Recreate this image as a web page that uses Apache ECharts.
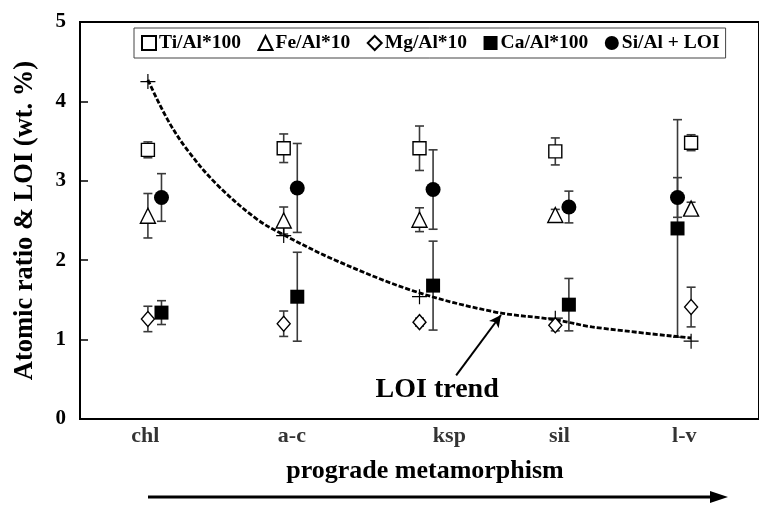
<!DOCTYPE html>
<html>
<head>
<meta charset="utf-8">
<script src="https://cdn.jsdelivr.net/npm/echarts@6/dist/echarts.min.js"></script>
<style>
  html, body { margin: 0; padding: 0; background: #fff; }
  #chart { width: 759px; height: 506px; }
</style>
</head>
<body>
<div id="chart"></div>
<script>
// metamorphic grade stages and where their labels sit on the x scale
const stages = ['chl', 'a-c', 'ksp', 'sil', 'l-v']
const stageLabelX = [0.98, 2.06, 3.22, 4.03, 4.95]

// open markers sit on the stage, filled ones are nudged to the side
const openX = [1, 2, 3, 4, 5]
const filledX = [1.1, 2.1, 3.1, 4.1, 4.9]

const tiAl = [3.39, 3.41, 3.41, 3.37, 3.48]
const tiErr = [0.10, 0.18, 0.28, 0.17, 0.10]
const feAl = [2.56, 2.50, 2.51, 2.57, 2.65]
const feErr = [0.28, 0.17, 0.15, 0.07, 0.08]
const mgAl = [1.26, 1.20, 1.22, 1.18, 1.41]
const mgErr = [0.16, 0.16, 0.05, 0.07, 0.25]
const caAl = [1.34, 1.54, 1.68, 1.44, 2.40]
const caErr = [0.15, 0.56, 0.56, 0.33, 1.37]
const siLoi = [2.79, 2.91, 2.89, 2.67, 2.79]
const siErr = [0.30, 0.56, 0.50, 0.20, 0.25]

// LOI values (+) and the dashed trend
const loiX = [1, 2, 3, 4, 5]
const loi = [4.25, 2.31, 1.54, 1.27, 0.98]
const trendX = [1, 1.145, 1.29, 1.51, 1.8, 2.0, 2.38, 2.96, 3.55, 4.0, 4.27, 5.0]
const trendY = [4.27, 3.77, 3.39, 2.95, 2.52, 2.32, 2.0, 1.61, 1.35, 1.25, 1.16, 1.02]

const serif = 'Liberation Serif'
const chart = echarts.init(document.getElementById('chart'))

function zip(xs, ys) {
    return xs.map((x, i) => [x, ys[i]])
}

function errorSeries(xs, ys, errs) {
    return {
        type: 'custom',
        silent: true,
        z: 1,
        data: xs.map((x, i) => [x, ys[i] - errs[i], ys[i] + errs[i]]),
        renderItem: (params, api) => {
            const lo = api.coord([api.value(0), api.value(1)])
            const hi = api.coord([api.value(0), api.value(2)])
            const cap = 4.5
            const style = {stroke: '#3a3a3a', lineWidth: 1.6}
            return {
                type: 'group',
                children: [
                    {type: 'line', shape: {x1: lo[0], y1: lo[1], x2: hi[0], y2: hi[1]}, style},
                    {type: 'line', shape: {x1: lo[0] - cap, y1: lo[1], x2: lo[0] + cap, y2: lo[1]}, style},
                    {type: 'line', shape: {x1: hi[0] - cap, y1: hi[1], x2: hi[0] + cap, y2: hi[1]}, style}
                ]
            }
        }
    }
}

function markerSeries(name, xs, ys, symbol, size, filled) {
    return {
        name: name,
        type: 'scatter',
        z: 3,
        symbol: symbol,
        symbolSize: size,
        itemStyle: filled
            ? {color: '#000', borderColor: '#000', borderWidth: 0, opacity: 1}
            : {color: '#fff', borderColor: '#000', borderWidth: 1.4, opacity: 1},
        data: zip(xs, ys)
    }
}

chart.setOption({
    animation: false,
    grid: {
        left: 80,
        top: 22,
        width: 687.5,
        bottom: 87,
        show: true,
        borderColor: '#000',
        borderWidth: 2
    },
    legend: {
        left: 134,
        top: 28,
        data: ['Ti/Al*100', 'Fe/Al*10', 'Mg/Al*10', 'Ca/Al*100', 'Si/Al + LOI'],
        backgroundColor: '#fff',
        borderColor: '#444',
        borderWidth: 1,
        borderRadius: 0,
        padding: [5, 6, 5, 7],
        itemGap: 16.5,
        itemWidth: 14,
        itemHeight: 14,
        textStyle: {
            fontFamily: serif,
            fontWeight: 'bold',
            fontSize: 19.5,
            color: '#000',
            padding: [0, 0, 0, -2]
        }
    },
    xAxis: {
        type: 'value',
        min: 0.5,
        max: 5.5,
        axisLine: {show: true, lineStyle: {color: '#000', width: 2}},
        axisTick: {show: false},
        axisLabel: {show: false},
        splitLine: {show: false}
    },
    yAxis: {
        type: 'value',
        min: 0,
        max: 5,
        interval: 1,
        name: 'Atomic ratio & LOI (wt. %)',
        nameLocation: 'middle',
        nameGap: 41,
        nameTextStyle: {
            fontFamily: serif,
            fontWeight: 'bold',
            fontSize: 26.5,
            color: '#000'
        },
        axisLine: {show: true, lineStyle: {color: '#000', width: 2}},
        axisTick: {show: true, inside: true, length: 8, lineStyle: {color: '#000', width: 1.5}},
        axisLabel: {
            fontFamily: serif,
            fontWeight: 'bold',
            fontSize: 21,
            color: '#000',
            margin: 14
        },
        splitLine: {show: false}
    },
    graphic: [
        {
            type: 'text',
            x: 425,
            y: 471,
            style: {
                text: 'prograde metamorphism',
                font: 'bold 26px "Liberation Serif"',
                fill: '#000',
                align: 'center',
                verticalAlign: 'middle'
            }
        },
        {
            type: 'line',
            shape: {x1: 148, y1: 497, x2: 716, y2: 497},
            style: {stroke: '#000', lineWidth: 3}
        },
        {
            type: 'polygon',
            shape: {points: [[710, 491], [728, 497], [710, 503]]},
            style: {fill: '#000'}
        }
    ],
    series: [
        {
            name: 'LOI trend',
            type: 'line',
            smooth: 0.35,
            showSymbol: false,
            silent: true,
            z: 2,
            lineStyle: {color: '#000', width: 2.8, type: [5, 2]},
            data: zip(trendX, trendY),
            markLine: {
                silent: true,
                symbol: ['none', 'arrow'],
                symbolSize: [9, 12],
                label: {show: false},
                lineStyle: {color: '#000', width: 2, type: 'solid'},
                data: [[{coord: [3.27, 0.55]}, {coord: [3.6, 1.31]}]]
            },
            markPoint: {
                silent: true,
                symbol: 'rect',
                symbolSize: 0,
                label: {
                    show: true,
                    position: 'inside',
                    formatter: 'LOI trend',
                    fontFamily: serif,
                    fontWeight: 'bold',
                    fontSize: 28,
                    color: '#000'
                },
                data: [{coord: [3.13, 0.37]}]
            }
        },
        {
            name: 'LOI',
            type: 'scatter',
            z: 3,
            symbol: 'path://M0,9.2H20V10.8H0Z M9.2,0H10.8V20H9.2Z',
            symbolSize: 15,
            itemStyle: {color: '#000', opacity: 1},
            data: zip(loiX, loi)
        },
        errorSeries(openX, tiAl, tiErr),
        errorSeries(openX, feAl, feErr),
        errorSeries(openX, mgAl, mgErr),
        errorSeries(filledX, caAl, caErr),
        errorSeries(filledX, siLoi, siErr),
        markerSeries('Ti/Al*100', openX, tiAl, 'rect', 13, false),
        markerSeries('Fe/Al*10', openX, feAl, 'triangle', 15, false),
        markerSeries('Mg/Al*10', openX, mgAl, 'diamond', [13, 15], false),
        markerSeries('Ca/Al*100', filledX, caAl, 'rect', 14, true),
        markerSeries('Si/Al + LOI', filledX, siLoi, 'circle', 15, true),
        {
            name: 'stages',
            type: 'scatter',
            silent: true,
            clip: false,
            symbolSize: 0,
            label: {
                show: true,
                position: 'bottom',
                distance: 6,
                formatter: p => stages[p.dataIndex],
                fontFamily: serif,
                fontWeight: 'bold',
                fontSize: 22,
                color: '#000'
            },
            data: stageLabelX.map(x => [x, 0])
        }
    ]
})
</script>
</body>
</html>
